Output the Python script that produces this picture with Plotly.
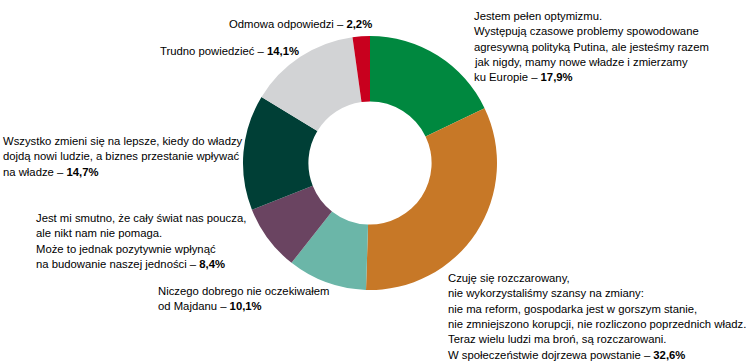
import plotly.graph_objects as go

W, H = 750, 362

# Data (clockwise from top)
categories = [
    "Jestem pełen optymizmu",
    "Czuję się rozczarowany",
    "Niczego dobrego nie oczekiwałem",
    "Jest mi smutno",
    "Wszystko zmieni się na lepsze",
    "Trudno powiedzieć",
    "Odmowa odpowiedzi",
]
values = [17.9, 32.6, 10.1, 8.4, 14.7, 14.1, 2.2]
value_labels = ["17,9%", "32,6%", "10,1%", "8,4%", "14,7%", "14,1%", "2,2%"]
colors = ["#00883f", "#c77827", "#6bb6a8", "#6a4461", "#003f36", "#d2d3d5", "#c8001e"]

label_lines = [
    ["Jestem pełen optymizmu.",
     "Występują czasowe problemy spowodowane",
     "agresywną polityką Putina, ale jesteśmy razem",
     "jak nigdy, mamy nowe władze i zmierzamy",
     "ku Europie – "],
    ["Czuję się rozczarowany,",
     "nie wykorzystaliśmy szansy na zmiany:",
     "nie ma reform, gospodarka jest w gorszym stanie,",
     "nie zmniejszono korupcji, nie rozliczono poprzednich władz.",
     "Teraz wielu ludzi ma broń, są rozczarowani.",
     "W społeczeństwie dojrzewa powstanie – "],
    ["Niczego dobrego nie oczekiwałem",
     "od Majdanu – "],
    ["Jest mi smutno, że cały świat nas poucza,",
     "ale nikt nam nie pomaga.",
     "Może to jednak pozytywnie wpłynąć",
     "na budowanie naszej jedności – "],
    ["Wszystko zmieni się na lepsze, kiedy do władzy",
     "dojdą nowi ludzie, a biznes przestanie wpływać",
     "na władze – "],
    ["Trudno powiedzieć – "],
    ["Odmowa odpowiedzi – "],
]
# label block anchor (left x px, first-line y px)
label_pos = [(472, 16), (446, 278), (156, 291), (34, 218), (1, 141), (158, 51), (227, 24)]
line_gap = 15.3

cx, cy, r = 370, 163, 127

fig = go.Figure(go.Pie(
    labels=categories,
    values=values,
    sort=False,
    direction="clockwise",
    rotation=0,
    hole=0.485,
    marker=dict(colors=colors, line=dict(width=0)),
    textinfo="none",
    hoverinfo="label+value",
    domain=dict(x=[(cx - r) / W, (cx + r) / W],
                y=[(H - cy - r) / H, (H - cy + r) / H]),
    showlegend=False,
))

annotations = []
for lines, (lx, ly), vl in zip(label_lines, label_pos, value_labels):
    for i, line in enumerate(lines):
        txt = line
        if i == len(lines) - 1:
            txt = line + "<b>" + vl + "</b>"
        annotations.append(dict(
            x=lx / W, y=1 - (ly + i * line_gap) / H,
            xref="paper", yref="paper",
            xanchor="left", yanchor="middle",
            text=txt, showarrow=False, align="left",
            font=dict(family="Liberation Sans, Arial, sans-serif", size=11.3, color="#000000"),
        ))

fig.update_layout(
    width=W, height=H,
    margin=dict(l=0, r=0, t=0, b=0),
    paper_bgcolor="white",
    plot_bgcolor="white",
    annotations=annotations,
)

fig.write_html("out.html")
